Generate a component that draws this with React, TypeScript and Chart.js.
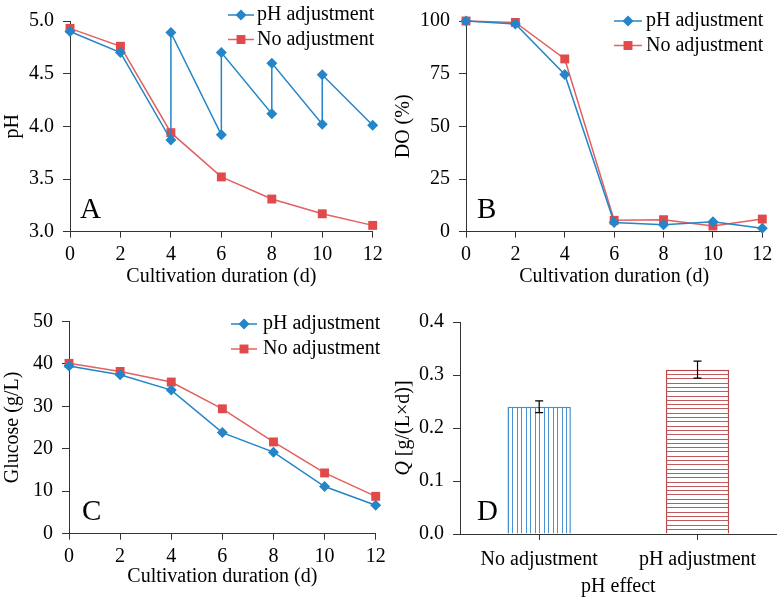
import React, { useEffect, useRef } from 'react';
import { Chart, registerables } from 'chart.js';

Chart.register(...registerables);

// ---------- data ----------
const xTicks = [0, 2, 4, 6, 8, 10, 12];
const days = [0, 2, 4, 6, 8, 10, 12];
const phAdjDays = [0, 2, 4, 4, 6, 6, 8, 8, 10, 10, 12];
const phAdjValues = [4.9, 4.7, 3.87, 4.89, 3.92, 4.7, 4.12, 4.6, 4.02, 4.49, 4.01];
const phNoAdjValues = [4.93, 4.76, 3.94, 3.52, 3.31, 3.17, 3.06];
const doAdjValues = [100, 98.6, 74.6, 4.4, 3.3, 4.7, 1.6];
const doNoAdjValues = [100, 99.3, 82.0, 5.4, 5.7, 2.7, 6.0];
const glucoseAdjValues = [39.5, 37.4, 33.8, 23.8, 19.2, 11.1, 6.7];
const glucoseNoAdjValues = [40.1, 38.2, 35.7, 29.4, 21.6, 14.3, 8.8];
const qCategories = ['No adjustment', 'pH adjustment'];
const qValues = [0.24, 0.31];
const qErrors = [0.011, 0.016];
const seriesLabels = ['pH adjustment', 'No adjustment'];

// ---------- style ----------
const FONT = '"Liberation Serif", "Times New Roman", serif';
const BLUE = '#2485c8';
const RED = '#e04a4a';
const RED_LINE = '#e26060';
const AXIS = '#333333';
const DIAMOND_R = 5.5;
const SQUARE_R = 6.3;

const toPts = (xs: number[], ys: number[]) => xs.map((x, i) => ({ x, y: ys[i] }));

function lineDatasets(blueX: number[], blueY: number[], redX: number[], redY: number[]) {
  return [
    {
      label: seriesLabels[0],
      data: toPts(blueX, blueY),
      borderColor: BLUE,
      backgroundColor: BLUE,
      pointStyle: 'rectRot',
      pointRadius: DIAMOND_R,
      pointBorderWidth: 0,
      borderWidth: 1.5,
      clip: false as any,
      order: 1,
    },
    {
      label: seriesLabels[1],
      data: toPts(redX, redY),
      borderColor: RED_LINE,
      backgroundColor: RED,
      pointStyle: 'rect',
      pointRadius: SQUARE_R,
      pointBorderWidth: 0,
      borderWidth: 1.5,
      clip: false as any,
      order: 2,
    },
  ];
}

type Overlay = {
  letter: string;
  letterX: number;
  letterY: number;
  legend?: { lineX: number; lineLen: number; textX: number; y: number; gap: number };
  yTitleRich?: { x: number };
};

function overlayPlugin(cfg: Overlay) {
  return {
    id: 'overlay' + cfg.letter,
    afterDraw(chart: any) {
      const ctx: CanvasRenderingContext2D = chart.ctx;
      ctx.save();
      ctx.fillStyle = '#000';
      ctx.font = '29px ' + FONT;
      ctx.textAlign = 'left';
      ctx.textBaseline = 'alphabetic';
      ctx.fillText(cfg.letter, cfg.letterX, cfg.letterY);

      if (cfg.legend) {
        const L = cfg.legend;
        chart.data.datasets.forEach((ds: any, i: number) => {
          const y = L.y + i * L.gap;
          ctx.strokeStyle = ds.borderColor;
          ctx.lineWidth = 1.5;
          ctx.beginPath();
          ctx.moveTo(L.lineX, y);
          ctx.lineTo(L.lineX + L.lineLen, y);
          ctx.stroke();
          const cx = L.lineX + L.lineLen / 2;
          ctx.fillStyle = ds.backgroundColor;
          ctx.beginPath();
          if (ds.pointStyle === 'rectRot') {
            const r = DIAMOND_R;
            ctx.moveTo(cx - r, y);
            ctx.lineTo(cx, y - r);
            ctx.lineTo(cx + r, y);
            ctx.lineTo(cx, y + r);
            ctx.closePath();
          } else {
            const s = SQUARE_R * Math.SQRT1_2;
            ctx.rect(cx - s, y - s, 2 * s, 2 * s);
          }
          ctx.fill();
          ctx.fillStyle = '#000';
          ctx.font = '20px ' + FONT;
          ctx.textBaseline = 'middle';
          ctx.fillText(ds.label, L.textX, y);
        });
      }

      if (cfg.yTitleRich) {
        const area = chart.chartArea;
        const cy = (area.top + area.bottom) / 2;
        ctx.translate(cfg.yTitleRich.x, cy);
        ctx.rotate(-Math.PI / 2);
        ctx.textBaseline = 'middle';
        ctx.fillStyle = '#000';
        const p1 = 'Q';
        const p2 = ' [g/(L×d)]';
        ctx.font = 'italic 20px ' + FONT;
        const w1 = ctx.measureText(p1).width;
        ctx.font = '20px ' + FONT;
        const w2 = ctx.measureText(p2).width;
        const start = -(w1 + w2) / 2;
        ctx.font = 'italic 20px ' + FONT;
        ctx.fillText(p1, start, 0);
        ctx.font = '20px ' + FONT;
        ctx.fillText(p2, start + w1, 0);
      }
      ctx.restore();
    },
  };
}

const barDecorPlugin = {
  id: 'barDecor',
  afterDatasetsDraw(chart: any) {
    const ctx: CanvasRenderingContext2D = chart.ctx;
    const meta = chart.getDatasetMeta(0);
    const yScale = chart.scales.y;
    meta.data.forEach((bar: any, i: number) => {
      const { x, y, base, width } = bar.getProps(['x', 'y', 'base', 'width'], true);
      const left = x - width / 2;
      const right = x + width / 2;
      ctx.save();
      ctx.beginPath();
      ctx.rect(left, y, width, base - y);
      ctx.clip();
      ctx.lineWidth = 1;
      if (i === 0) {
        ctx.strokeStyle = '#4a92d2';
        for (let sx = left + 4.5; sx < right - 1; sx += 4.5) {
          ctx.beginPath();
          ctx.moveTo(Math.round(sx) + 0.5, y);
          ctx.lineTo(Math.round(sx) + 0.5, base);
          ctx.stroke();
        }
      } else {
        ctx.strokeStyle = '#bf5a5f';
        for (let sy = y + 4.3; sy < base - 1; sy += 4.3) {
          ctx.beginPath();
          ctx.moveTo(left, Math.round(sy) + 0.5);
          ctx.lineTo(right, Math.round(sy) + 0.5);
          ctx.stroke();
        }
      }
      ctx.restore();
      // error bar
      const v = qValues[i];
      const e = qErrors[i];
      const yTop = yScale.getPixelForValue(v + e);
      const yBot = yScale.getPixelForValue(v - e);
      ctx.save();
      ctx.strokeStyle = '#000';
      ctx.lineWidth = 1.2;
      ctx.beginPath();
      ctx.moveTo(x, yTop);
      ctx.lineTo(x, yBot);
      ctx.moveTo(x - 4, yTop);
      ctx.lineTo(x + 4, yTop);
      ctx.moveTo(x - 4, yBot);
      ctx.lineTo(x + 4, yBot);
      ctx.stroke();
      ctx.restore();
    });
  },
};

function xLinearAxis(height: number, titlePad: number) {
  return {
    type: 'linear',
    min: 0,
    max: 12,
    afterBuildTicks: (scale: any) => {
      scale.ticks = xTicks.map((v) => ({ value: v }));
    },
    afterFit: (scale: any) => {
      scale.height = height;
    },
    ticks: { color: '#000', padding: 5, font: { size: 20, family: FONT } },
    grid: { drawOnChartArea: false, color: AXIS, tickLength: 6, tickWidth: 1 },
    border: { color: AXIS, width: 1 },
    title: {
      display: true,
      text: 'Cultivation duration (d)',
      color: '#000',
      font: { size: 20, family: FONT },
      padding: { top: 0, bottom: titlePad },
    },
  };
}

function yAxis(min: number, max: number, step: number, width: number, title: string | null, fmt?: (v: number) => string) {
  return {
    type: 'linear',
    min,
    max,
    ticks: {
      stepSize: step,
      color: '#000',
      padding: 9,
      font: { size: 20, family: FONT },
      callback: (v: any) => (fmt ? fmt(Number(v)) : String(v)),
    },
    afterFit: (scale: any) => {
      scale.width = width;
    },
    grid: { drawOnChartArea: false, color: AXIS, tickLength: 7, tickWidth: 1 },
    border: { color: AXIS, width: 1 },
    title: {
      display: !!title,
      text: title || '',
      color: '#000',
      font: { size: 20, family: FONT },
      padding: { top: 1, bottom: 0 },
    },
  };
}

function baseOptions(padding: any) {
  return {
    responsive: false,
    animation: false,
    devicePixelRatio: 1,
    layout: { padding },
    plugins: { legend: { display: false }, tooltip: { enabled: false } },
    elements: { line: { tension: 0 } },
  };
}

function useChart(ref: React.RefObject<HTMLCanvasElement>, build: () => any) {
  useEffect(() => {
    if (!ref.current) return;
    const chart = new Chart(ref.current, build());
    return () => chart.destroy();
  }, []);
}

export default function App() {
  const refA = useRef<HTMLCanvasElement>(null);
  const refB = useRef<HTMLCanvasElement>(null);
  const refC = useRef<HTMLCanvasElement>(null);
  const refD = useRef<HTMLCanvasElement>(null);

  useChart(refA, () => ({
    type: 'line',
    data: { datasets: lineDatasets(phAdjDays, phAdjValues, days, phNoAdjValues) },
    options: {
      ...baseOptions({ top: 19, right: 18.3, left: 0, bottom: 0 }),
      scales: {
        x: xLinearAxis(68.3, 11),
        y: yAxis(3, 5, 0.5, 70, 'pH', (v) => v.toFixed(1)),
      },
    },
    plugins: [
      overlayPlugin({
        letter: 'A',
        letterX: 80,
        letterY: 218,
        legend: { lineX: 228, lineLen: 26, textX: 257, y: 15, gap: 24.5 },
      }),
    ],
  }));

  useChart(refB, () => ({
    type: 'line',
    data: { datasets: lineDatasets(days, doAdjValues, days, doNoAdjValues) },
    options: {
      ...baseOptions({ top: 20, right: 19.7, left: 0, bottom: 0 }),
      scales: {
        x: xLinearAxis(68.3, 11),
        y: yAxis(0, 100, 25, 75, 'DO (%)'),
      },
    },
    plugins: [
      overlayPlugin({
        letter: 'B',
        letterX: 86,
        letterY: 218,
        legend: { lineX: 223, lineLen: 28, textX: 255, y: 21, gap: 24.5 },
      }),
    ],
  }));

  useChart(refC, () => ({
    type: 'line',
    data: { datasets: lineDatasets(days, glucoseAdjValues, days, glucoseNoAdjValues) },
    options: {
      ...baseOptions({ top: 21.3, right: 15.3, left: 0, bottom: 0 }),
      scales: {
        x: xLinearAxis(69.3, 14),
        y: yAxis(0, 50, 10, 69, 'Glucose (g/L)'),
      },
    },
    plugins: [
      overlayPlugin({
        letter: 'C',
        letterX: 82,
        letterY: 220,
        legend: { lineX: 231, lineLen: 26, textX: 263, y: 24, gap: 25 },
      }),
    ],
  }));

  useChart(refD, () => ({
    type: 'bar',
    data: {
      labels: qCategories,
      datasets: [
        {
          label: 'Q',
          data: qValues,
          backgroundColor: ['#ffffff', '#ffffff'],
          borderColor: ['#3f8fd0', '#b5474c'],
          borderWidth: 1.5,
          barPercentage: 0.8,
          categoryPercentage: 0.5,
        },
      ],
    },
    options: {
      ...baseOptions({ top: 22, right: 5.3, left: 0, bottom: 0 }),
      scales: {
        x: {
          type: 'category',
          afterFit: (scale: any) => {
            scale.height = 69;
          },
          ticks: { color: '#000', padding: 8, font: { size: 20, family: FONT } },
          grid: { drawOnChartArea: false, offset: false, color: AXIS, tickLength: 6 },
          border: { color: AXIS, width: 1 },
          title: {
            display: true,
            text: 'pH effect',
            color: '#000',
            font: { size: 20, family: FONT },
            padding: { top: 0, bottom: 4 },
          },
        },
        y: yAxis(0, 0.4, 0.1, 69, null, (v) => v.toFixed(1)),
      },
    },
    plugins: [
      barDecorPlugin,
      overlayPlugin({ letter: 'D', letterX: 86, letterY: 220, yTitleRich: { x: 13 } }),
    ],
  }));

  const cv = (left: number, top: number, w: number, h: number): React.CSSProperties => ({
    position: 'absolute',
    left,
    top,
    width: w,
    height: h,
    display: 'block',
  });

  return (
    <div style={{ position: 'absolute', left: 0, top: 0, width: 782, height: 603, background: '#fff', overflow: 'hidden' }}>
      <canvas ref={refA} width={391} height={300} style={cv(0, 0, 391, 300)} />
      <canvas ref={refB} width={391} height={300} style={cv(391, 0, 391, 300)} />
      <canvas ref={refC} width={391} height={303} style={cv(0, 300, 391, 303)} />
      <canvas ref={refD} width={391} height={303} style={cv(391, 300, 391, 303)} />
    </div>
  );
}
